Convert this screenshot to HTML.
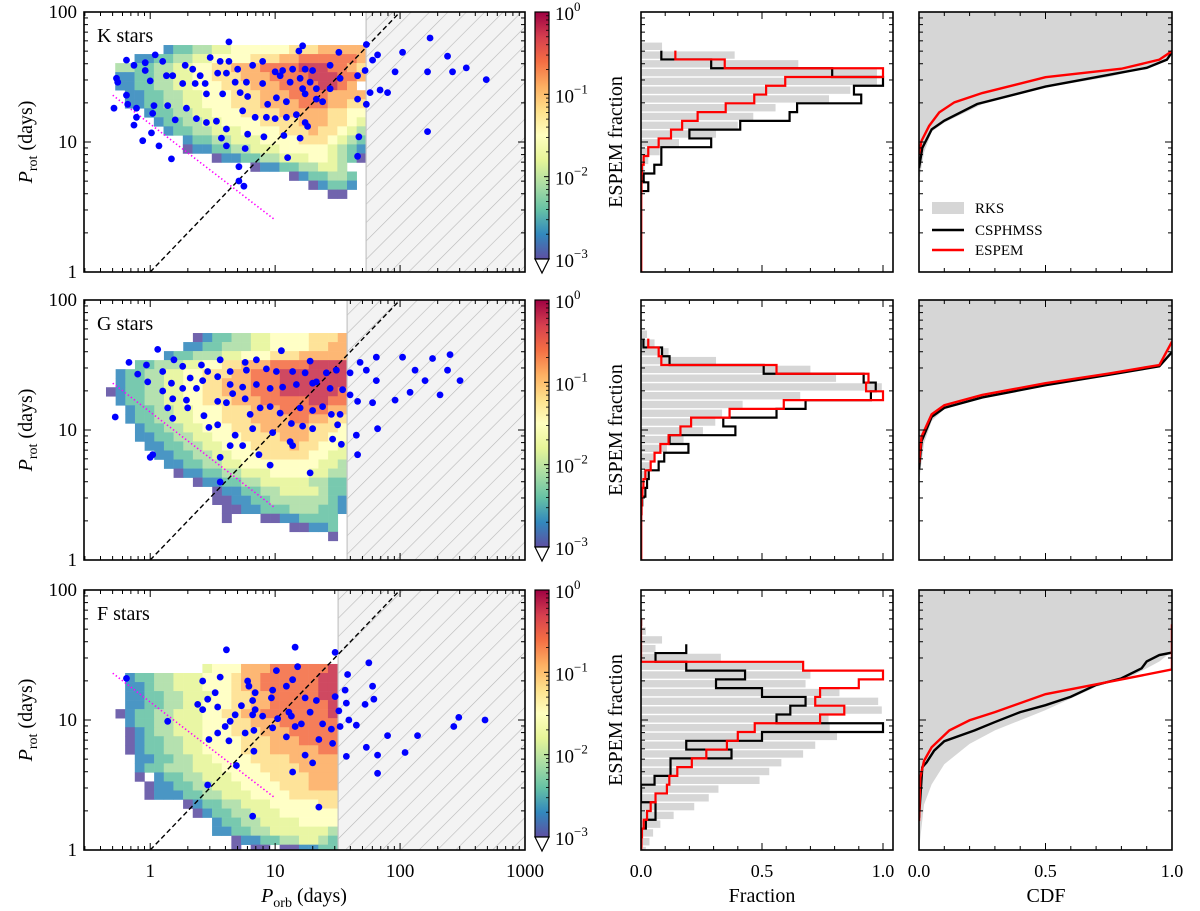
<!DOCTYPE html>
<html><head><meta charset="utf-8">
<style>
html,body{margin:0;padding:0;background:#fff;}
svg{display:block;font-family:"Liberation Serif",serif;}
</style></head>
<body>
<svg id="fig" width="1200" height="911" viewBox="0 0 1200 911" xmlns="http://www.w3.org/2000/svg">
<defs>
<pattern id="hatch" patternUnits="userSpaceOnUse" width="13" height="13" patternTransform="rotate(45)">
<rect width="13" height="13" fill="#f3f3f3"/>
<line x1="0" y1="0" x2="0" y2="13" stroke="#b8b8b8" stroke-width="1.2"/>
</pattern>
<linearGradient id="cbgrad" x1="0" y1="0" x2="0" y2="1">
<stop offset="0" stop-color="#9e0142"/><stop offset="0.1" stop-color="#d53e4f"/><stop offset="0.2" stop-color="#f46d43"/>
<stop offset="0.3" stop-color="#fdae61"/><stop offset="0.4" stop-color="#fee08b"/><stop offset="0.5" stop-color="#ffffbf"/>
<stop offset="0.6" stop-color="#e6f598"/><stop offset="0.7" stop-color="#abdda4"/><stop offset="0.8" stop-color="#66c2a5"/>
<stop offset="0.9" stop-color="#3288bd"/><stop offset="1" stop-color="#5e4fa2"/>
</linearGradient>
</defs>
</svg>
<script>
// ---------- DATA ----------
const panelNames = ['K stars','G stars','F stars'];
const hatchLogPorb = [1.728, 1.576, 1.504];
const heatLogPorbStart = [-0.28, -0.354, -0.278];
const heatLogProtTop = [1.746, 1.746, 1.431];
const heatK = [
".....122334455555566677777",
"..112233445555666778888887",
"33223344556677788889998876",
"11223344556667778888999887",
"1122334455566677788889987.",
".1122334455566677788887777",
".1122334455566677778887766",
"...12233445556666777776655",
"....1223344555566667776654",
".....122334445555666766543",
".......1223344455556665432",
".......0112233444555554321",
"..........0112233444554320",
"..............0112233443..",
"..................0122332.",
"....................01221.",
"......................00.."];
const heatG = [
".........0122334455556667",
"........11223334455556677",
"......1223334455566677777",
"...2233344556677788889999",
".122334455666778889999999",
".122334455667778889999999",
"0122334455667778889999998",
".122334455666777888889988",
"..12233445556667778888877",
"..12233445556667777887766",
"...1223344555666777776665",
"...1122334455566667776655",
"....112233445556666766554",
".....11223344555666665544",
"......1122334455555555443",
".......011223344455554433",
".........0112233444443322",
"...........01122334444322",
"...........00112233333321",
"............0011222333221",
"............0...00112222.",
"...................00112.",
".......................0."];
const heatF = [
".........45557778888889",
".1223344455567788888899",
".1123344455567788888899",
".1122334445566778888899",
".1122334455566778888889",
"01223344455667788888889",
".1223344455566777888888",
".0123344455566677788888",
".0122334455556667778888",
".0122334455556667777788",
"..112233445555666677777",
"..122333444555566667777",
"..0.1223344455556666777",
"...01122334445555666777",
"...01112233444555566666",
".......0122334445555566",
"........012233444555555",
"..........1223344445555",
"..........1122334444443",
"............01122334432",
"............0.00.001122"];
const heatLevels = ['0','1','2','3','4','5','6','7','8','9'];

// scatter points [log10 Porb, log10 Prot]
const kPoints = [[0.63,1.77],[1.22,1.74],[1.73,1.75],[0.04,1.67],[-0.19,1.63],[-0.13,1.59],[-0.04,1.61],[-0.04,1.55],[0.10,1.62],[0.28,1.59],[0.34,1.56],[0.40,1.51],[0.48,1.65],[0.56,1.62],[0.63,1.62],[0.70,1.56],[0.82,1.59],[0.90,1.62],[1.00,1.54],[1.06,1.55],[1.14,1.56],[1.24,1.56],[1.30,1.55],[1.44,1.59],[1.51,1.69],[1.19,1.70],[-0.27,1.49],[-0.26,1.46],[0,1.47],[0.13,1.51],[0.18,1.51],[0.26,1.45],[0.36,1.45],[0.44,1.45],[0.54,1.53],[0.61,1.53],[0.68,1.46],[0.77,1.46],[0.90,1.45],[1.04,1.51],[1.12,1.46],[1.20,1.49],[1.28,1.46],[1.22,1.41],[1.33,1.41],[1.44,1.41],[1.52,1.49],[1.66,1.51],[1.72,1.55],[1.76,1.38],[1.66,1.33],[1.73,1.29],[-0.19,1.36],[-0.18,1.29],[-0.29,1.26],[-0.11,1.26],[0.03,1.28],[0.14,1.28],[0.29,1.26],[0.45,1.37],[0.58,1.37],[0.72,1.38],[0.78,1.35],[0.94,1.29],[1.01,1.34],[1.09,1.31],[1.24,1.37],[1.33,1.33],[1.38,1.31],[0.74,1.24],[0.84,1.19],[0.93,1.19],[1.00,1.18],[1.09,1.19],[1.17,1.21],[1.24,1.15],[1.26,1.12],[-0.11,1.19],[-0.13,1.13],[0.02,1.22],[0.20,1.17],[0.37,1.18],[0.45,1.15],[0.53,1.16],[0.61,1.10],[-0.06,1.01],[0.01,1.07],[0.07,0.97],[0.17,0.87],[0.57,1.03],[0.61,0.97],[0.76,0.95],[0.78,1.06],[0.91,1.04],[1.07,1.05],[1.20,1.03],[1.10,0.88],[0.71,0.81],[0.71,0.70],[0.75,0.66],[1.67,1.04],[1.66,0.89],[1.82,1.67],[2.02,1.69],[2.24,1.80],[2.38,1.66],[1.84,1.40],[1.96,1.54],[2.22,1.54],[2.42,1.54],[2.69,1.48],[2.53,1.57],[2.22,1.08],[1.78,1.63],[1.90,1.38]];
const gPoints = [[0.06,1.62],[-0.17,1.52],[-0.03,1.50],[-0.10,1.43],[0.10,1.45],[0.26,1.49],[0.19,1.54],[0.41,1.50],[0.56,1.54],[0.46,1.45],[0.64,1.45],[0.76,1.52],[0.85,1.54],[0.77,1.46],[0.93,1.47],[1.05,1.61],[1.01,1.45],[1.14,1.45],[1.28,1.53],[1.24,1.44],[1.33,1.37],[1.41,1.44],[1.49,1.46],[-0.02,1.37],[0.17,1.36],[0.32,1.40],[0.26,1.32],[0.37,1.32],[0.42,1.38],[0.54,1.41],[0.64,1.35],[0.74,1.33],[0.85,1.35],[0.96,1.32],[1.06,1.33],[1.17,1.35],[1.30,1.36],[1.44,1.32],[1.54,1.31],[0.10,1.30],[-0.28,1.10],[0.18,1.24],[0.29,1.23],[0.14,1.17],[0.30,1.17],[0.18,1.09],[0.43,1.11],[0.54,1.22],[0.61,1.21],[0.76,1.24],[0.88,1.17],[0.96,1.18],[1.04,1.13],[1.20,1.17],[1.30,1.15],[1.38,1.18],[1.45,1.12],[1.52,1.12],[0.47,1.02],[0.54,1.04],[0.68,0.96],[0.82,1.01],[0.98,0.98],[1.13,1.05],[1.22,1.03],[1.30,1.01],[1.50,1.04],[0,0.79],[0.02,0.81],[0.56,0.79],[0.64,0.88],[0.74,0.88],[0.87,0.81],[0.96,0.73],[1.12,0.91],[1.14,0.88],[1.28,0.67],[1.46,0.93],[1.53,0.89],[0.56,0.60],[0.66,1.28],[0.80,1.12],[1.60,1.44],[1.68,1.52],[1.73,1.46],[1.81,1.56],[1.81,1.38],[1.60,1.27],[1.66,1.22],[1.78,1.21],[1.65,0.96],[1.82,1.01],[1.66,0.81],[2.02,1.56],[2.12,1.46],[2.20,1.38],[2.26,1.55],[2.38,1.46],[2.48,1.38],[2.32,1.27],[2.08,1.29],[2.40,1.58],[1.96,1.23]];
const fPoints = [[0.61,1.54],[1.16,1.56],[1.48,1.52],[1.75,1.44],[-0.19,1.32],[0.42,1.30],[0.56,1.33],[1.01,1.38],[1.18,1.41],[0.78,1.30],[0.79,1.26],[0.84,1.21],[0.82,1.15],[0.98,1.23],[0.97,1.17],[1.09,1.26],[1.14,1.31],[1.24,1.17],[1.33,1.15],[1.48,1.18],[1.58,1.35],[1.56,1.23],[1.78,1.26],[1.79,1.16],[1.72,1.12],[1.57,1.13],[0.38,1.12],[0.42,1.08],[0.46,1.16],[0.52,1.21],[0.54,1.10],[0.73,1.11],[0.84,1.08],[0.82,1.04],[0.68,1.04],[0.64,0.99],[0.60,0.95],[0.54,0.90],[0.76,0.90],[0.83,0.92],[0.90,1.03],[0.98,0.94],[1.02,1.01],[1.11,1.06],[1.13,1.03],[1.09,0.87],[1.16,0.95],[1.21,0.97],[1.28,1.06],[1.38,0.97],[1.45,0.93],[1.46,0.82],[1.51,1.07],[1.52,0.95],[1.59,1.00],[1.65,0.96],[1.35,0.85],[0.14,0.99],[0.47,0.85],[0.63,0.84],[0.83,0.76],[1.24,0.73],[1.30,0.67],[0.69,0.65],[1.14,0.60],[1.57,0.72],[1.73,0.79],[0.46,0.50],[1.35,0.33],[0.82,0.26],[1.90,0.88],[2.14,0.88],[2.04,0.75],[1.82,0.59],[2.47,1.02],[2.68,1.00],[1.82,0.73],[2.43,0.95]];

// histogram bins (log10 Prot), widths = fraction
const histTop = [1.77, 1.77, 1.785];
const histBin = 0.0675;
const kGray = [0.087,0.387,0.65,0.975,0.975,0.865,0.777,0.556,0.464,0.40,0.31,0.157,0.077,0.03,0.014,0.006,0.003,0.002,0.001,0.001,0,0,0,0,0,0,0];
const kBlack = [null,0.084,0.29,0.79,1.0,0.88,0.91,0.645,0.614,0.41,0.2,0.29,0.084,0.084,0.055,0.011,0.03,0,0,0,0,0,0,0,0,0,0];
const kRed = [null,0.142,0.346,1.0,0.596,0.517,0.468,0.35,0.234,0.17,0.124,0.073,0.03,0.011,0.004,0.002,0.002,0.001,0.001,0.001,0.001,0.001,0.001,0.001,0.001,0.001,0.001];
const gGray = [0.025,0.056,0.114,0.31,0.70,0.806,0.995,0.658,0.42,0.335,0.307,0.256,0.176,0.107,0.06,0.04,0.025,0.015,0.008,0.004,0.002,0.001,0,0,0,0,0];
const gBlack = [null,0.01,0.087,0.118,0.507,0.92,0.97,0.95,0.68,0.56,0.34,0.39,0.118,0.196,0.096,0.073,0.032,0.025,0.018,0.005,0.002,0,0,0,0,0,0];
const gRed = [null,0.03,0.073,0.084,0.56,0.94,0.93,1.0,0.59,0.366,0.207,0.163,0.114,0.08,0.056,0.04,0.018,0.01,0.006,0.003,0.002,0.001,0.001,0.001,0.001,0.001,0.001];
const fGray = [0.008,0.02,0.087,0.06,0.33,0.67,0.70,0.68,0.82,0.98,0.995,0.775,0.78,0.81,0.72,0.67,0.58,0.53,0.49,0.32,0.28,0.22,0.135,0.08,0.05,0.035,0.02];
const fBlack = [null,null,null,0.187,0.06,0.187,0.43,0.31,0.5,0.68,0.617,0.56,1.0,0.5,0.187,0.374,0.122,0.122,0.056,0,0,0.06,0.06,0.02,0,0,0];
const fRed = [0,0,0,0,0,0.67,1.0,0.9,0.74,0.72,0.84,0.74,0.47,0.4,0.355,0.27,0.21,0.15,0.117,0.107,0.06,0.04,0.025,0.011,0.004,0.002,0.001];

// CDF curves [cdf, Prot days]
const kCdfGray = [[0,5],[0.02,8.3],[0.05,12],[0.1,14.1],[0.25,19.5],[0.5,26.3],[0.75,31.6],[0.9,37.2],[0.98,42.7],[1,50]];
const kCdfBlack = [[0,6.3],[0.013,9.0],[0.05,12.5],[0.1,14.6],[0.23,19.6],[0.5,26.7],[0.7,31.5],[0.9,37.2],[0.98,43],[1,49.2]];
const kCdfRed = [[0,8.1],[0.01,10.2],[0.04,13.3],[0.08,16.9],[0.14,20.2],[0.25,23.8],[0.5,31.5],[0.8,36.6],[0.95,43],[1,50]];
const gCdfGray = [[0,4],[0.02,7.9],[0.05,11.7],[0.1,14.5],[0.25,17.8],[0.5,21.9],[0.75,26.3],[0.95,30.9],[1,41.7]];
const gCdfBlack = [[0,5],[0.01,8.2],[0.05,12.6],[0.1,14.8],[0.25,17.8],[0.5,22.1],[0.75,26.6],[0.95,30.9],[1,39.8]];
const gCdfRed = [[0,5.6],[0.01,8.9],[0.05,13.2],[0.1,15.5],[0.25,18.6],[0.5,22.9],[0.75,27.2],[0.95,31.6],[1,47.9]];
const fCdfGray = [[0,1.0],[0.02,2.24],[0.05,3.2],[0.1,4.57],[0.2,6.55],[0.3,8.32],[0.5,11.9],[0.7,18.0],[0.85,22.2],[0.95,28.2],[1,33.7]];
const fCdfBlack = [[0,1.77],[0.013,4.33],[0.03,4.72],[0.06,5.82],[0.1,6.87],[0.22,8.32],[0.3,9.64],[0.4,11.5],[0.5,13.0],[0.6,15.1],[0.7,18.6],[0.8,20.9],[0.88,25.0],[0.9,28.2],[0.95,31.6],[1,33.0]];
const fCdfRed = [[0,1.67],[0.005,3.61],[0.02,4.86],[0.05,6.17],[0.12,8.32],[0.2,9.95],[0.3,11.5],[0.5,15.8],[0.8,20.5],[1,24.5],[1,54.5]];

const xTickLabels = ['1','10','100','1000'];
const yTickLabels = ['1','10','100'];
const cbTickLabels = ['0','-1','-2','-3'];
const fracTickLabels = ['0.0','0.5','1.0'];

// ---------- DRAW ----------
const NS = 'http://www.w3.org/2000/svg';
const svg = document.getElementById('fig');
function mk(tag, attrs, parent){
  const e = document.createElementNS(NS, tag);
  for (const k in attrs) e.setAttribute(k, attrs[k]);
  (parent || svg).appendChild(e);
  return e;
}
const tops = [12, 300, 590];
const H = 260;
const LX0 = 84, LX1 = 525, LMIN = -0.53, LMAX = 3;
const MX0 = 641, MX1 = 893, MSC = 242;
const RX0 = 919, RX1 = 1172;
const lx = v => LX0 + (v - LMIN) / (LMAX - LMIN) * (LX1 - LX0);
const ly = (v, t) => t + H - (v / 2) * H;
const mx = f => MX0 + f * MSC;
const rx = c => RX0 + c * (RX1 - RX0);
const heatColors = {'0':'#5e4fa2','1':'#3288bd','2':'#66c2a5','3':'#abdda4','4':'#e6f598','5':'#ffffbf','6':'#fee08b','7':'#fdae61','8':'#f46d43','9':'#c9304c'};
const heats = [heatK, heatG, heatF];
const pts = [kPoints, gPoints, fPoints];
const grays = [kGray, gGray, fGray], blacks = [kBlack, gBlack, fBlack], reds = [kRed, gRed, fRed];
const cG = [kCdfGray, gCdfGray, fCdfGray], cB = [kCdfBlack, gCdfBlack, fCdfBlack], cR = [kCdfRed, gCdfRed, fCdfRed];
const panelKeys = ['k','g','f'];

function clip(id, x, y, w, h){
  const defs = svg.querySelector('defs');
  const c = mk('clipPath', {id: id}, defs);
  mk('rect', {x: x, y: y, width: w, height: h}, c);
}

function logYTicks(g, t, xl, xr){
  for (let d = 0; d < 2; d++){
    for (let m = 1; m < 10; m++){
      const v = d + Math.log10(m);
      const y = ly(v, t);
      const L = m === 1 ? 7 : 4;
      if (m === 1 && d === 0) continue;
      mk('line', {x1: xl, y1: y, x2: xl + L, y2: y, stroke: '#000', 'stroke-width': 1}, g);
      mk('line', {x1: xr, y1: y, x2: xr - L, y2: y, stroke: '#000', 'stroke-width': 1}, g);
    }
  }
}
function fracXTicks(g, t, xf){
  for (let i = 0; i <= 10; i++){
    const x = xf(i / 10);
    const L = i % 5 === 0 ? 7 : 4;
    mk('line', {x1: x, y1: t + H, x2: x, y2: t + H - L, stroke: '#000', 'stroke-width': 1}, g);
    mk('line', {x1: x, y1: t, x2: x, y2: t + L, stroke: '#000', 'stroke-width': 1}, g);
  }
}

for (let p = 0; p < 3; p++){
  const t = tops[p];
  const key = panelKeys[p];
  // ===== left scatter/heatmap panel =====
  const gl = mk('g', {});
  
  
  clip('cl' + p, LX0, t, LX1 - LX0, H);
  const inner = mk('g', {'clip-path': 'url(#cl' + p + ')'}, gl);
  const hg = mk('g', {opacity: 0.88}, inner);
  
  
  const rows = heats[p];
  const dx = 0.0773, dy = 0.0695;
  for (let r = 0; r < rows.length; r++){
    for (let c = 0; c < rows[r].length; c++){
      const ch = rows[r][c];
      if (heatLevels.indexOf(ch) < 0) continue;
      const x0 = lx(heatLogPorbStart[p] + c * dx), x1 = lx(heatLogPorbStart[p] + (c + 1) * dx);
      const y0 = ly(heatLogProtTop[p] - r * dy, t), y1 = ly(heatLogProtTop[p] - (r + 1) * dy, t);
      const cell = mk('rect', {x: x0, y: y0, width: x1 - x0 + 0.3, height: y1 - y0 + 0.3, fill: heatColors[ch]}, hg);
      
      
    }
  }
  const hx = lx(hatchLogPorb[p]);
  const hatch = mk('rect', {x: hx, y: t, width: LX1 - hx, height: H, fill: 'url(#hatch)'}, inner);
  
  
  mk('line', {x1: hx, y1: t, x2: hx, y2: t + H, stroke: '#c4c4c4', 'stroke-width': 1.2}, inner);
  const diag = mk('line', {x1: lx(0), y1: ly(0, t), x2: lx(2), y2: ly(2, t), stroke: '#000', 'stroke-width': 1.4, 'stroke-dasharray': '5,3'}, inner);
  
  
  const mag = mk('line', {x1: lx(-0.3), y1: ly(1.36, t), x2: lx(1.0), y2: ly(0.40, t), stroke: '#ff00ff', 'stroke-width': 1.6, 'stroke-dasharray': '1.4,2.4'}, inner);
  
  
  const sg = mk('g', {}, inner);
  
  
  for (const q of pts[p]){
    const c = mk('circle', {cx: lx(q[0]), cy: ly(q[1], t), r: 3.4, fill: '#0000ff'}, sg);
    
    
  }
  // ticks
  const tg = mk('g', {}, gl);
  logYTicks(tg, t, LX0, LX1);
  for (let d = -1; d < 3; d++){
    for (let m = 1; m < 10; m++){
      const v = d + Math.log10(m);
      if (v < LMIN || v > LMAX) continue;
      const x = lx(v), L = m === 1 ? 7 : 4;
      mk('line', {x1: x, y1: t + H, x2: x, y2: t + H - L, stroke: '#000', 'stroke-width': 1}, tg);
      mk('line', {x1: x, y1: t, x2: x, y2: t + L, stroke: '#000', 'stroke-width': 1}, tg);
    }
  }
  const fr = mk('rect', {x: LX0, y: t, width: LX1 - LX0, height: H, fill: 'none', stroke: '#000', 'stroke-width': 1.6}, gl);
  
  
  yTickLabels.forEach((s, i) => {
    const tx = mk('text', {x: 77, y: ly(i, t) + 6, 'text-anchor': 'end', 'font-size': 19}, gl);
    tx.textContent = s;
    
    
  });
  const pl = mk('text', {x: 97, y: t + 30, 'font-size': 20}, gl);
  pl.textContent = panelNames[p];
  
  
  const yt = mk('text', {x: 0, y: 0, transform: 'translate(32,' + (t + H / 2) + ') rotate(-90)', 'text-anchor': 'middle', 'font-size': 20}, gl);
  yt.innerHTML = '<tspan font-style="italic">P</tspan><tspan font-size="14" dy="5">rot</tspan><tspan dy="-5"> (days)</tspan>';
  
  

  // colorbar
  const cb = mk('g', {}, svg);
  
  
  const cbt = t, cbb = t + 247;
  mk('rect', {x: 535, y: cbt, width: 14, height: cbb - cbt, fill: 'url(#cbgrad)', stroke: '#000', 'stroke-width': 1.2}, cb);
  mk('path', {d: 'M535,' + cbb + ' L549,' + cbb + ' L542,' + (cbb + 14) + ' Z', fill: '#fff', stroke: '#000', 'stroke-width': 1.2}, cb);
  for (let d = 0; d < 3; d++){
    for (let m = 2; m < 10; m++){
      const y = cbb - (d + Math.log10(m)) / 3 * (cbb - cbt);
      mk('line', {x1: 549, y1: y, x2: 546, y2: y, stroke: '#000', 'stroke-width': 0.8}, cb);
    }
  }
  cbTickLabels.forEach((s, i) => {
    const y = cbt + i / 3 * (cbb - cbt);
    mk('line', {x1: 549, y1: y, x2: 544, y2: y, stroke: '#000', 'stroke-width': 1}, cb);
    const tx = mk('text', {x: 555, y: y + 8, 'font-size': 19}, cb);
    tx.innerHTML = '10<tspan font-size="13" dy="-9">' + s.replace('-', '\u2212') + '</tspan>';
    
    
  });
  const el = mk('text', {x: 0, y: 0, transform: 'translate(622,' + (t + H / 2) + ') rotate(-90)', 'text-anchor': 'middle', 'font-size': 20}, svg);
  el.textContent = 'ESPEM fraction';
  
  

  // ===== middle histogram panel =====
  const gm = mk('g', {});
  
  
  clip('cm' + p, MX0, t, MX1 - MX0, H);
  const mi = mk('g', {'clip-path': 'url(#cm' + p + ')'}, gm);
  const ht = histTop[p];
  grays[p].forEach((v, i) => {
    if (!v) return;
    const yA = ly(ht - i * histBin, t), yB = ly(ht - (i + 1) * histBin, t);
    const b = mk('rect', {x: MX0, y: yA + 0.7, width: mx(v) - MX0, height: yB - yA - 1.4, fill: '#d6d6d6'}, mi);
    
    
  });
  function stepPath(vals){
    let d = '', started = false;
    vals.forEach((v, i) => {
      if (v === null) return;
      const yA = ly(ht - i * histBin, t), yB = ly(ht - (i + 1) * histBin, t);
      const x = mx(v);
      if (!started){ d += 'M' + x + ',' + yA; started = true; } else d += 'H' + x;
      d += 'V' + yB;
    });
    return d;
  }
  const bs = mk('path', {d: stepPath(blacks[p]), fill: 'none', stroke: '#000', 'stroke-width': 2.2}, mi);
  
  
  const rs = mk('path', {d: stepPath(reds[p]), fill: 'none', stroke: '#ff0000', 'stroke-width': 2.2}, mi);
  
  
  const tm = mk('g', {}, gm);
  logYTicks(tm, t, MX0, MX1);
  fracXTicks(tm, t, mx);
  mk('rect', {x: MX0, y: t, width: MX1 - MX0, height: H, fill: 'none', stroke: '#000', 'stroke-width': 1.6}, gm);

  // ===== right CDF panel =====
  const gr = mk('g', {});
  
  
  clip('cr' + p, RX0, t, RX1 - RX0, H);
  const ri = mk('g', {'clip-path': 'url(#cr' + p + ')'}, gr);
  let poly = cG[p].map(q => rx(q[0]) + ',' + ly(Math.log10(q[1]), t)).join(' ');
  poly += ' ' + rx(1) + ',' + t + ' ' + rx(0) + ',' + t;
  const fill = mk('polygon', {points: poly, fill: '#d6d6d6'}, ri);
  
  
  const bl = mk('polyline', {points: cB[p].map(q => rx(q[0]) + ',' + ly(Math.log10(q[1]), t)).join(' '), fill: 'none', stroke: '#000', 'stroke-width': 2.4}, ri);
  
  
  const rl = mk('polyline', {points: cR[p].map(q => rx(q[0]) + ',' + ly(Math.log10(q[1]), t)).join(' '), fill: 'none', stroke: '#ff0000', 'stroke-width': 2.4}, ri);
  
  
  const trr = mk('g', {}, gr);
  logYTicks(trr, t, RX0, RX1);
  fracXTicks(trr, t, rx);
  mk('rect', {x: RX0, y: t, width: RX1 - RX0, height: H, fill: 'none', stroke: '#000', 'stroke-width': 1.6}, gr);
}

// bottom tick labels & titles
xTickLabels.forEach((s, i) => {
  const tx = mk('text', {x: lx(i), y: 877, 'text-anchor': 'middle', 'font-size': 19}, svg);
  tx.textContent = s;
  
  
});
fracTickLabels.forEach((s, i) => {
  const a = mk('text', {x: mx(i * 0.5), y: 877, 'text-anchor': 'middle', 'font-size': 18}, svg);
  a.textContent = s;
  
  
  const b = mk('text', {x: rx(i * 0.5), y: 877, 'text-anchor': 'middle', 'font-size': 18}, svg);
  b.textContent = s;
  
  
});
const xt = mk('text', {x: 304, y: 902, 'text-anchor': 'middle', 'font-size': 20}, svg);
xt.innerHTML = '<tspan font-style="italic">P</tspan><tspan font-size="14" dy="5">orb</tspan><tspan dy="-5"> (days)</tspan>';


const ft = mk('text', {x: 762, y: 902, 'text-anchor': 'middle', 'font-size': 20}, svg);
ft.textContent = 'Fraction';


const ct = mk('text', {x: 1046, y: 902, 'text-anchor': 'middle', 'font-size': 20}, svg);
ct.textContent = 'CDF';



// legend
const lg = mk('g', {}, svg);


mk('rect', {x: 932, y: 202, width: 32, height: 12, fill: '#d6d6d6'}, lg);
mk('line', {x1: 932, y1: 230, x2: 964, y2: 230, stroke: '#000', 'stroke-width': 2.4}, lg);
mk('line', {x1: 932, y1: 250, x2: 964, y2: 250, stroke: '#ff0000', 'stroke-width': 2.4}, lg);
[['RKS', 213], ['CSPHMSS', 235], ['ESPEM', 255]].forEach(e => {
  const tx = mk('text', {x: 975, y: e[1], 'font-size': 15}, lg);
  tx.textContent = e[0];
  
  
});
</script>
</body></html>
